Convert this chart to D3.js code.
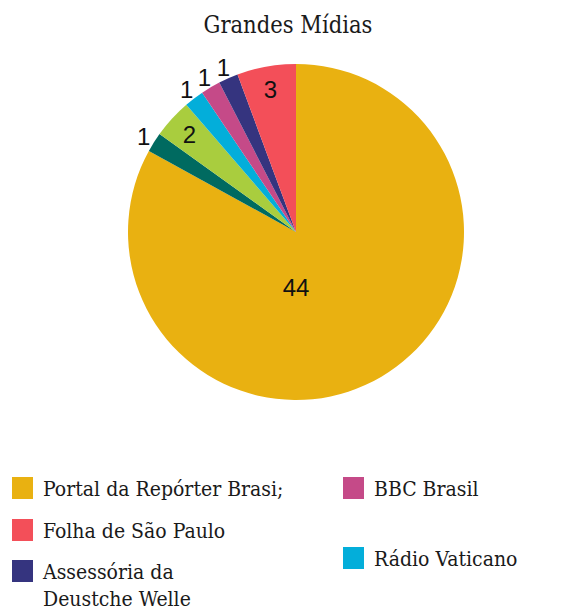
<!DOCTYPE html>
<html>
<head>
<meta charset="utf-8">
<script src="https://cdn.jsdelivr.net/npm/d3@7"></script>
<style>
  body { margin: 0; background: #fff; }
</style>
</head>
<body>
<script>
// dados
const titulo = "Grandes Mídias";
const nomes = [
  "Portal da Repórter Brasi;",
  "Folha de São Paulo",
  "Assessória da Deustche Welle",
  "BBC Brasil",
  "Rádio Vaticano",
  "",
  ""
];
const valores = [44, 3, 1, 1, 1, 2, 1];
const cores = ["#e9b111", "#f34f59", "#35347f", "#c54a88", "#03aeda", "#a9cd3e", "#006a60"];
// ordem das fatias no sentido horario a partir do topo
const ordemPizza = [0, 6, 5, 4, 3, 2, 1];

const width = 566, height = 607;
const cx = 296, cy = 232, R = 168;
const fonteSerif = "'DejaVu Serif', serif";

const svg = d3.select("body").append("svg")
  .attr("width", width)
  .attr("height", height);

svg.append("text")
  .attr("x", 288)
  .attr("y", 33)
  .attr("text-anchor", "middle")
  .style("font-family", fonteSerif)
  .style("font-size", "23.5px")
  .style("font-stretch", "condensed")
  .style("fill", "#1a1a1a")
  .text(titulo);

const fatias = ordemPizza.map((i) => ({ nome: nomes[i], valor: valores[i], cor: cores[i] }));

const pie = d3.pie().sort(null).value((d) => d.valor);
const arcs = pie(fatias);
const arc = d3.arc().innerRadius(0).outerRadius(R);

const g = svg.append("g").attr("transform", `translate(${cx},${cy})`);

g.selectAll("path")
  .data(arcs)
  .join("path")
  .attr("d", arc)
  .attr("fill", (d) => d.data.cor);

// rotulos
const total = d3.sum(valores);
const arcDentro = d3.arc().innerRadius(R * 0.86).outerRadius(R * 0.86);
const arcFora = d3.arc().innerRadius(R + 12).outerRadius(R + 12);

g.selectAll("text")
  .data(arcs)
  .join("text")
  .attr("transform", (d) => {
    let p;
    if (d.data.valor / total > 0.5) {
      p = [0, R * 0.33];
    } else if (d.data.valor >= 2) {
      p = arcDentro.centroid(d);
    } else {
      p = arcFora.centroid(d);
    }
    return `translate(${p[0]},${p[1]})`;
  })
  .attr("text-anchor", "middle")
  .attr("dy", "0.36em")
  .style("font", "24px 'Liberation Sans', Arial, sans-serif")
  .style("fill", "#111")
  .text((d) => d.data.valor);

// legenda
const legendaPos = [
  [12, 477], [12, 519], [12, 560], [343, 477], [343, 547]
];
const itens = nomes.map((n, i) => ({ nome: n, cor: cores[i] })).filter((d) => d.nome);

const leg = svg.selectAll("g.leg")
  .data(itens)
  .join("g")
  .attr("class", "leg")
  .attr("transform", (d, i) => `translate(${legendaPos[i][0]},${legendaPos[i][1]})`);

leg.append("rect")
  .attr("width", 21)
  .attr("height", 22)
  .attr("fill", (d) => d.cor);

leg.append("text")
  .style("font-family", fonteSerif)
  .style("font-size", "21px")
  .style("font-stretch", "condensed")
  .style("fill", "#1a1a1a")
  .each(function (d) {
    const t = d3.select(this);
    const linhas = d.nome.length > 22 && d.nome.indexOf(";") < 0
      ? ["Assessória da", d.nome.replace("Assessória da ", "")]
      : [d.nome];
    linhas.forEach((l, k) => {
      t.append("tspan").attr("x", 31).attr("y", 19 + k * 27).text(l);
    });
  });
</script>
</body>
</html>
